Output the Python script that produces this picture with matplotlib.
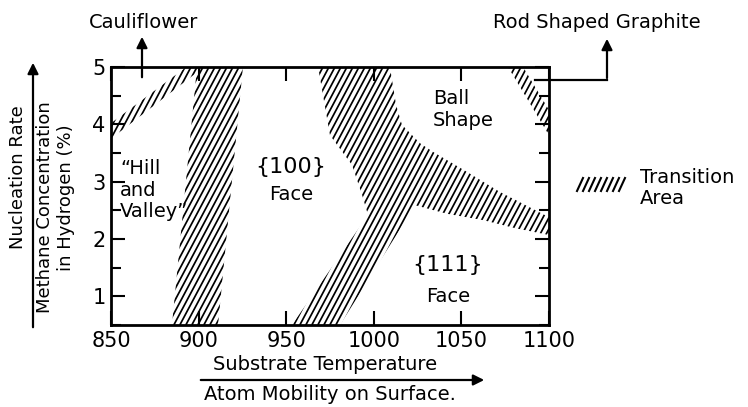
import numpy as np
import matplotlib
matplotlib.use("Agg")
import matplotlib.pyplot as plt
from matplotlib.patches import Polygon
from matplotlib.collections import LineCollection
from matplotlib.lines import Line2D
from matplotlib.ticker import MultipleLocator

plt.rcParams['font.family'] = ['DejaVu Sans']

# ---- data (temperature in C, methane concentration in %) ----
x_ticks = [850, 900, 950, 1000, 1050, 1100]
y_ticks = [1, 2, 3, 4, 5]

# transition areas (polygon vertices: temperature, concentration)
cauliflower_T = [850, 850, 893, 903]
cauliflower_C = [3.75, 4.02, 5.0, 5.0]

hill_T = [899.1, 925.3, 911.1, 884.8]
hill_C = [5.0, 5.0, 0.5, 0.5]

main_T = [968.2, 1009.2, 1012.7, 1016.1, 1026.4, 1033.8, 1053.2, 1072.0, 1100.0,
          1100.0, 1080.6, 1062.3, 1041.8, 1023.5, 980.7, 953.3, 996.7, 993.3,
          987.6, 975.0]
main_C = [5.0, 5.0, 4.34, 3.99, 3.67, 3.52, 3.17, 2.82, 2.38,
          2.07, 2.19, 2.33, 2.44, 2.59, 0.5, 0.5, 2.42, 2.77,
          3.29, 3.81]

rod_T = [1076.6, 1085.2, 1100.0, 1100.0]
rod_C = [5.0, 5.0, 4.25, 3.81]

regions = [(cauliflower_T, cauliflower_C), (hill_T, hill_C),
           (main_T, main_C), (rod_T, rod_C)]

W, H = 748, 407
fig = plt.figure(figsize=(W / 100, H / 100), dpi=100)
fig.patch.set_facecolor('white')

def fx(px):
    return px / W

def fy(py):
    return 1 - py / H

ax_l, ax_r, ax_t, ax_b = 111, 549, 67, 325
ax = fig.add_axes([fx(ax_l), fy(ax_b), (ax_r - ax_l) / W, (ax_b - ax_t) / H])
ax.set_xlim(850, 1100)
ax.set_ylim(0.5, 5)
ax.set_xticks(x_ticks)
ax.set_yticks(y_ticks)
ax.yaxis.set_minor_locator(MultipleLocator(0.5))
ax.tick_params(which='major', direction='in', top=True, right=True,
               length=10, width=1.5, labelsize=15, pad=4)
ax.tick_params(which='minor', direction='in', left=True, right=True,
               length=7, width=1.5)
for s in ax.spines.values():
    s.set_linewidth(2)

# hatch lines drawn in axes fraction, clipped to each region
aw, ah = ax_r - ax_l, ax_b - ax_t
ang = np.deg2rad(62)
run = ah / np.tan(ang)
spacing = 6.0
segs = []
for c in np.arange(-run - 10, aw + 10, spacing):
    segs.append([(c / aw, 0.0), ((c + run) / aw, 1.0)])

for T, C in regions:
    poly = Polygon(np.column_stack([T, C]), closed=True, facecolor='none',
                   edgecolor='none')
    ax.add_patch(poly)
    lc = LineCollection(segs, colors='black', linewidths=1.25,
                        transform=ax.transAxes)
    ax.add_collection(lc)
    lc.set_clip_path(poly)

# region labels
txt = dict(fontsize=14, color='black')
fig.text(fx(120), fy(190), '\u201cHill\nand\nValley\u201d', ha='left', va='center',
         linespacing=1.15, **txt)
fig.text(fx(291), fy(167), '{100}', ha='center', va='center', fontsize=16)
fig.text(fx(291), fy(194), 'Face', ha='center', va='center', **txt)
fig.text(fx(433), fy(98), 'Ball', ha='left', va='center', **txt)
fig.text(fx(433), fy(120), 'Shape', ha='left', va='center', **txt)
fig.text(fx(448), fy(265), '{111}', ha='center', va='center', fontsize=16)
fig.text(fx(448), fy(297), 'Face', ha='center', va='center', **txt)

# top annotations
fig.text(fx(144), fy(22), 'Cauliflower', ha='center', va='center', **txt)
ax.annotate('', xy=(fx(142), fy(34)), xytext=(fx(142), fy(80)),
            xycoords='figure fraction', textcoords='figure fraction',
            arrowprops=dict(arrowstyle='-|>', lw=1.6, color='black',
                            mutation_scale=16))
fig.text(fx(597), fy(22), 'Rod Shaped Graphite', ha='center', va='center', **txt)
fig.add_artist(Line2D([fx(535), fx(607)], [fy(80), fy(80)],
                      transform=fig.transFigure, color='black', lw=1.6))
ax.annotate('', xy=(fx(607), fy(36)), xytext=(fx(607), fy(80.8)),
            xycoords='figure fraction', textcoords='figure fraction',
            arrowprops=dict(arrowstyle='-|>', lw=1.6, color='black',
                            mutation_scale=16))

# legend
for i in range(8):
    x0 = 577 + 6 * i
    fig.add_artist(Line2D([fx(x0), fx(x0 + 6)], [fy(191), fy(178)],
                          transform=fig.transFigure, color='black', lw=1.5))
fig.text(fx(640), fy(178), 'Transition', ha='left', va='center', **txt)
fig.text(fx(640), fy(199), 'Area', ha='left', va='center', **txt)

# y axis labels
ylab = dict(fontsize=13, color='black', rotation=90, ha='center', va='center')
fig.text(fx(18), fy(177), 'Nucleation Rate', **ylab)
ax.annotate('', xy=(fx(33), fy(60)), xytext=(fx(33), fy(330)),
            xycoords='figure fraction', textcoords='figure fraction',
            arrowprops=dict(arrowstyle='-|>', lw=1.6, color='black',
                            mutation_scale=16))
fig.text(fx(45), fy(207), 'Methane Concentration', **ylab)
fig.text(fx(66), fy(198), 'in Hydrogen (%)', **ylab)

# x axis labels
fig.text(fx(325), fy(365), 'Substrate Temperature', ha='center', va='center', **txt)
ax.annotate('', xy=(fx(487), fy(380)), xytext=(fx(198), fy(380)),
            xycoords='figure fraction', textcoords='figure fraction',
            arrowprops=dict(arrowstyle='-|>', lw=1.6, color='black',
                            mutation_scale=16))
fig.text(fx(330), fy(394), 'Atom Mobility on Surface.', ha='center',
         va='center', **txt)

fig.savefig('out.png', dpi=100, facecolor='white')
